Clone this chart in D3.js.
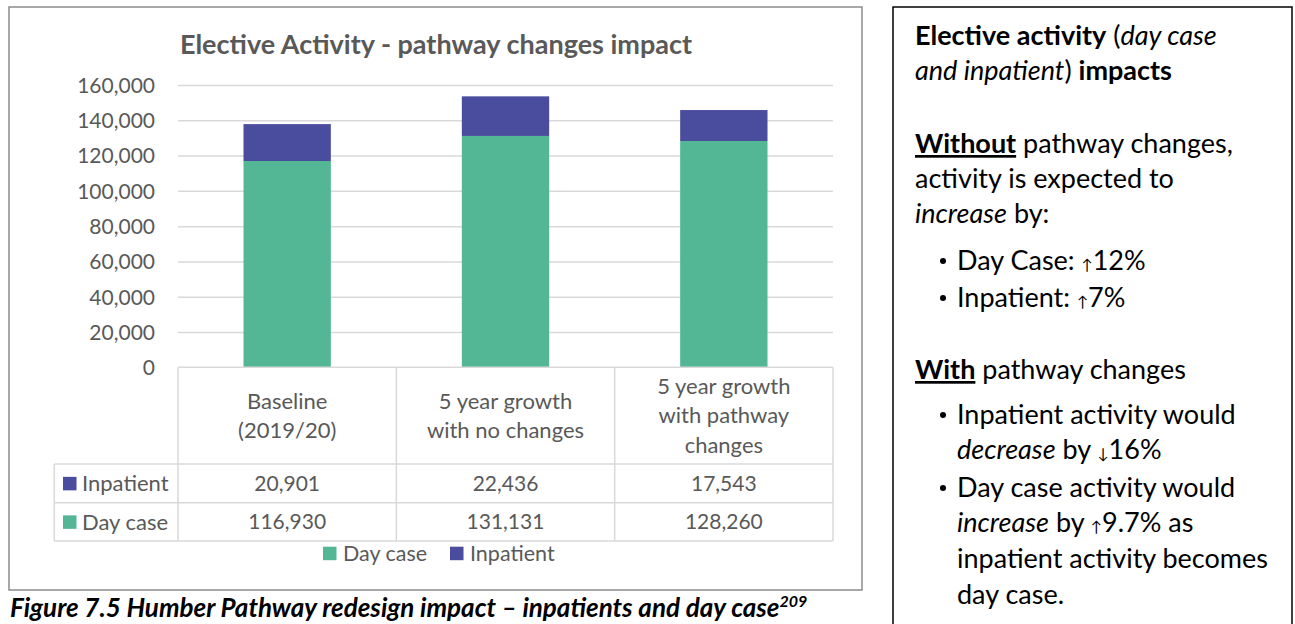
<!DOCTYPE html>
<html>
<head>
<meta charset="utf-8">
<script src="https://cdn.jsdelivr.net/npm/d3@7"></script>
<style>
  html, body { margin: 0; padding: 0; background: #fff; }
  svg { display: block; }
  text { font-family: Lato, "Open Sans", sans-serif; }
</style>
</head>
<body>
<svg id="chart" width="1295" height="624"></svg>
<script>
// ---------- data ----------
const categories = [["Baseline", "(2019/20)"], ["5 year growth", "with no changes"], ["5 year growth", "with pathway", "changes"]];
const seriesNames = ["Day case", "Inpatient"];
const dayCase = [116930, 131131, 128260];
const inpatient = [20901, 22436, 17543];
const yTicks = [0, 20000, 40000, 60000, 80000, 100000, 120000, 140000, 160000];
const chartTitle = "Elective Activity - pathway changes impact";

// ---------- styling ----------
const colors = { "Day case": "#53B795", "Inpatient": "#4A4C9D" };
const grey = "#595959";
const gridCol = "#D9D9D9";

const svg = d3.select("#chart");

// chart frame
svg.append("rect").attr("x", 9).attr("y", 7).attr("width", 853).attr("height", 583)
  .attr("fill", "#fff").attr("stroke", "#8C8C8C").attr("stroke-width", 1.5);

const plot = { left: 178, right: 833, top: 85, bottom: 367.3 };

const x = d3.scaleBand().domain(d3.range(categories.length))
  .range([plot.left, plot.right]).paddingInner(0.6).paddingOuter(0.3);
const y = d3.scaleLinear().domain([0, 160000]).range([plot.bottom, plot.top]);

// title
svg.append("text").attr("x", 436).attr("y", 54)
  .attr("text-anchor", "middle").attr("fill", grey)
  .attr("font-size", 27).attr("font-weight", 700).text(chartTitle);

// gridlines
const yAxis = d3.axisLeft(y).tickValues(yTicks).tickSize(-(plot.right - plot.left))
  .tickFormat(d3.format(","));
const gAxis = svg.append("g").attr("transform", `translate(${plot.left},0)`).call(yAxis);
gAxis.select(".domain").remove();
gAxis.selectAll(".tick line").attr("stroke", gridCol).attr("stroke-width", 1.5);
gAxis.selectAll(".tick").filter(d => d === 0).select("line").remove();
gAxis.selectAll(".tick text").attr("x", -23).attr("fill", grey)
  .attr("font-size", 21).attr("font-family", "Lato, sans-serif").attr("dy", "0.35em");

// stacked bars
const stackData = dayCase.map((d, i) => ({ i, "Day case": d, "Inpatient": inpatient[i] }));
const stacked = d3.stack().keys(seriesNames)(stackData);
svg.append("g").selectAll("g").data(stacked).join("g")
  .attr("fill", s => colors[s.key])
  .selectAll("rect").data(s => s).join("rect")
  .attr("x", d => x(d.data.i))
  .attr("width", x.bandwidth())
  .attr("y", d => y(d[1]))
  .attr("height", d => y(d[0]) - y(d[1]));

// data table
const step = x.step();
const tbl = { headTop: plot.bottom, headBottom: 464, row1Bottom: 502.7, row2Bottom: 541, labelLeft: 54.3 };
const tg = svg.append("g").attr("stroke", gridCol).attr("stroke-width", 1.5);
tg.append("line").attr("x1", plot.left).attr("x2", plot.right).attr("y1", tbl.headTop).attr("y2", tbl.headTop);
[tbl.headBottom, tbl.row1Bottom, tbl.row2Bottom].forEach(yy =>
  tg.append("line").attr("x1", tbl.labelLeft).attr("x2", plot.right).attr("y1", yy).attr("y2", yy));
d3.range(categories.length + 1).forEach(k => {
  const xx = plot.left + k * step;
  tg.append("line").attr("x1", xx).attr("x2", xx).attr("y1", tbl.headTop).attr("y2", tbl.row2Bottom);
});
tg.append("line").attr("x1", tbl.labelLeft).attr("x2", tbl.labelLeft).attr("y1", tbl.headBottom).attr("y2", tbl.row2Bottom);

// category header text
const lineH = 29.5;
categories.forEach((lines, i) => {
  const cx = plot.left + (i + 0.5) * step;
  const midY = (tbl.headTop + tbl.headBottom) / 2;
  const first = midY - (lines.length - 1) * lineH / 2;
  const t = svg.append("text").attr("text-anchor", "middle").attr("fill", grey).attr("font-size", 22);
  lines.forEach((ln, j) => t.append("tspan").attr("x", cx).attr("y", first + j * lineH).attr("dy", "0.35em").text(ln));
});

// table rows: Inpatient then Day case
const rows = [{ name: "Inpatient", vals: inpatient, top: tbl.headBottom, bottom: tbl.row1Bottom },
              { name: "Day case", vals: dayCase, top: tbl.row1Bottom, bottom: tbl.row2Bottom }];
rows.forEach(r => {
  const cy = (r.top + r.bottom) / 2;
  svg.append("rect").attr("x", 63).attr("y", cy - 6.5).attr("width", 13.5).attr("height", 13.5).attr("fill", colors[r.name]);
  svg.append("text").attr("x", 82).attr("y", cy).attr("dy", "0.35em").attr("fill", grey).attr("font-size", 22).text(r.name);
  r.vals.forEach((v, i) => {
    svg.append("text").attr("x", plot.left + (i + 0.5) * step).attr("y", cy).attr("dy", "0.35em")
      .attr("text-anchor", "middle").attr("fill", grey).attr("font-size", 21).text(d3.format(",")(v));
  });
});

// legend
const legend = [{ name: "Day case", x: 323 }, { name: "Inpatient", x: 450 }];
legend.forEach(l => {
  svg.append("rect").attr("x", l.x).attr("y", 546.7).attr("width", 13.5).attr("height", 13.5).attr("fill", colors[l.name]);
  svg.append("text").attr("x", l.x + 20).attr("y", 553.5).attr("dy", "0.35em").attr("fill", grey).attr("font-size", 21.5).text(l.name);
});

// caption
const cap = svg.append("text").attr("x", 10).attr("y", 617).attr("fill", "#000")
  .attr("font-size", 26).attr("font-weight", 700).attr("font-style", "italic");
cap.append("tspan").text("Figure 7.5 Humber Pathway redesign impact \u2013 inpatients and day case");
cap.append("tspan").attr("font-size", 16).attr("dy", -10).text("209");

// ---------- right text box ----------
svg.append("rect").attr("x", 893).attr("y", 7).attr("width", 399).attr("height", 640)
  .attr("fill", "#fff").attr("stroke", "#000").attr("stroke-width", 1.5);

const fs = 27;
const boxLines = [
  { x: 915, y: 45, parts: [{ t: "Elective activity", w: 700 }, { t: " (" }, { t: "day case", i: true }] },
  { x: 915, y: 80, parts: [{ t: "and inpatient", i: true }, { t: ") " }, { t: "impacts", w: 700 }] },
  { x: 915, y: 153, parts: [{ t: "Without", w: 700, u: true }, { t: " pathway changes," }] },
  { x: 915, y: 188, parts: [{ t: "activity is expected to" }] },
  { x: 915, y: 223, parts: [{ t: "increase", i: true }, { t: " by:" }] },
  { x: 957, y: 270, b: true, parts: [{ t: "Day Case: " }, { t: "\u2191", s: true }, { t: "12%" }] },
  { x: 957, y: 307, b: true, parts: [{ t: "Inpatient: " }, { t: "\u2191", s: true }, { t: "7%" }] },
  { x: 915, y: 379, parts: [{ t: "With", w: 700, u: true }, { t: " pathway changes" }] },
  { x: 957, y: 424, b: true, parts: [{ t: "Inpatient activity would" }] },
  { x: 957, y: 459, parts: [{ t: "decrease", i: true }, { t: " by " }, { t: "\u2193", s: true }, { t: "16%" }] },
  { x: 957, y: 497, b: true, parts: [{ t: "Day case activity would" }] },
  { x: 957, y: 532, parts: [{ t: "increase", i: true }, { t: " by " }, { t: "\u2191", s: true }, { t: "9.7% as" }] },
  { x: 957, y: 568, parts: [{ t: "inpatient activity becomes" }] },
  { x: 957, y: 604, parts: [{ t: "day case." }] }
];
boxLines.forEach(l => {
  if (l.b) svg.append("circle").attr("cx", 943).attr("cy", l.y - 9).attr("r", 3).attr("fill", "#000");
  const t = svg.append("text").attr("x", l.x).attr("y", l.y).attr("font-size", fs).attr("fill", "#000")
    .attr("xml:space", "preserve").style("white-space", "pre");
  l.parts.forEach(p => {
    const ts = t.append("tspan").text(p.t);
    if (p.w) ts.attr("font-weight", p.w);
    if (p.i) ts.attr("font-style", "italic");
    if (p.u) ts.style("text-decoration", "underline");
    if (p.s) ts.attr("font-size", fs * 0.55);
  });
});
</script>
</body>
</html>
